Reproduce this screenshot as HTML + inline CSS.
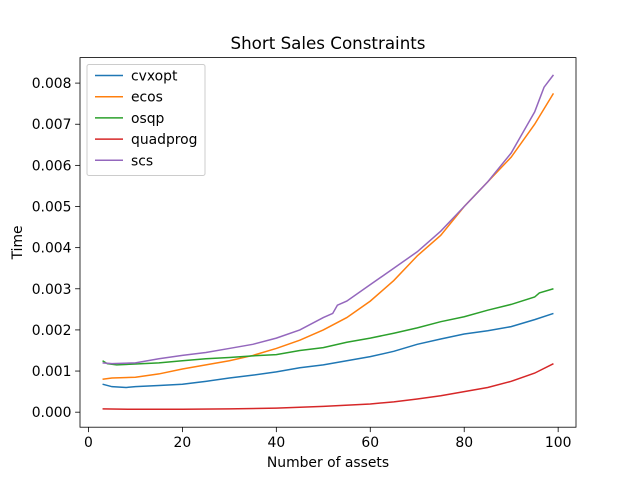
<!DOCTYPE html>
<html><head><meta charset="utf-8"><style>
body{margin:0;background:#fff}
svg{font-family:"DejaVu Sans","Liberation Sans",sans-serif}
</style></head><body>
<svg id="c" width="640" height="480" xmlns="http://www.w3.org/2000/svg"></svg>
<script>
const xTicks=[0,20,40,60,80,100];
const yTicks=[0,0.001,0.002,0.003,0.004,0.005,0.006,0.007,0.008];
const yTickLabels=["0.000","0.001","0.002","0.003","0.004","0.005","0.006","0.007","0.008"];
const seriesNames=["cvxopt","ecos","osqp","quadprog","scs"];
const seriesColors=["#1f77b4","#ff7f0e","#2ca02c","#d62728","#9467bd"];
const cvxoptX=[3,5,8,10,15,20,25,30,35,40,45,50,55,60,65,70,75,80,85,90,95,99];
const cvxoptY=[0.00068,0.00062,0.0006,0.00062,0.00065,0.00068,0.00075,0.00083,0.0009,0.00098,0.00108,0.00115,0.00125,0.00135,0.00148,0.00165,0.00178,0.0019,0.00198,0.00208,0.00225,0.0024];
const ecosX=[3,5,10,15,20,25,30,35,40,45,50,55,60,65,70,75,80,85,90,95,99];
const ecosY=[0.0008,0.00083,0.00085,0.00093,0.00105,0.00115,0.00125,0.00138,0.00155,0.00175,0.002,0.0023,0.0027,0.0032,0.0038,0.0043,0.005,0.0056,0.0062,0.007,0.00775];
const osqpX=[3,4,6,10,15,20,25,30,35,40,45,50,55,60,65,70,75,80,85,90,95,96,99];
const osqpY=[0.00125,0.00118,0.00115,0.00117,0.0012,0.00125,0.0013,0.00133,0.00137,0.0014,0.0015,0.00157,0.0017,0.0018,0.00192,0.00205,0.0022,0.00232,0.00248,0.00262,0.0028,0.0029,0.003];
const quadprogX=[3,10,20,30,40,50,60,65,70,75,80,85,90,95,99];
const quadprogY=[0.00008,0.00007,0.00007,0.00008,0.0001,0.00014,0.0002,0.00025,0.00032,0.0004,0.0005,0.0006,0.00075,0.00095,0.00118];
const scsX=[3,5,10,15,20,25,30,35,40,45,50,52,53,55,60,65,70,75,80,85,90,95,96,97,99];
const scsY=[0.0012,0.00118,0.0012,0.0013,0.00138,0.00145,0.00155,0.00165,0.0018,0.002,0.0023,0.0024,0.0026,0.0027,0.0031,0.0035,0.0039,0.0044,0.005,0.0056,0.0063,0.0073,0.0076,0.0079,0.0082];
const allX=[cvxoptX,ecosX,osqpX,quadprogX,scsX], allY=[cvxoptY,ecosY,osqpY,quadprogY,scsY];

const L=80,R=576,T=57.6,B=427.2;
const xMin=-1.8,xMax=103.8,yMin=-0.000365,yMax=0.00862;
const sx=v=>L+(v-xMin)/(xMax-xMin)*(R-L);
const sy=v=>B-(v-yMin)/(yMax-yMin)*(B-T);
const svg=document.getElementById('c');
const NS="http://www.w3.org/2000/svg";
function mk(tag,attrs,parent){const e=document.createElementNS(NS,tag);for(const k in attrs)e.setAttribute(k,attrs[k]);(parent||svg).appendChild(e);return e;}

for(let i=0;i<5;i++){
  const d=allX[i].map((x,j)=>(j?'L':'M')+sx(x).toFixed(2)+','+sy(allY[i][j]).toFixed(2)).join(' ');
  const p=mk('path',{d:d,fill:'none',stroke:seriesColors[i],'stroke-width':1.5});
  
  
}
const frame=mk('rect',{x:L,y:T,width:R-L,height:B-T,fill:'none',stroke:'#000','stroke-width':0.8});



xTicks.forEach(v=>{
  const x=sx(v);
  mk('line',{x1:x,x2:x,y1:B,y2:B+4.9,stroke:'#000','stroke-width':0.8});
  const t=mk('text',{x:x,y:B+20,'text-anchor':'middle','font-size':13.9,fill:'#000'});
  t.textContent=v;
  
  
});
yTicks.forEach((v,i)=>{
  const y=sy(v);
  mk('line',{x1:L-4.9,x2:L,y1:y,y2:y,stroke:'#000','stroke-width':0.8});
  const t=mk('text',{x:L-8.5,y:y+5,'text-anchor':'end','font-size':13.9,fill:'#000'});
  t.textContent=yTickLabels[i];
  
  
});
let t=mk('text',{x:(L+R)/2,y:49,'text-anchor':'middle','font-size':16.7,fill:'#000'});
t.textContent='Short Sales Constraints';


t=mk('text',{x:(L+R)/2,y:467,'text-anchor':'middle','font-size':13.9,fill:'#000'});
t.textContent='Number of assets';


t=mk('text',{x:22,y:(T+B)/2,'text-anchor':'middle','font-size':13.9,fill:'#000',transform:'rotate(-90 22 '+((T+B)/2)+')'});
t.textContent='Time';



const lg=mk('g',{});


mk('rect',{x:87,y:64.5,width:118,height:111,rx:2,fill:'#fff','fill-opacity':0.8,stroke:'#ccc','stroke-width':1},lg);
seriesNames.forEach((n,i)=>{
  const y=75.5+i*21.2;
  const g=mk('g',{},lg);
  
  
  mk('line',{x1:95,x2:123,y1:y,y2:y,stroke:seriesColors[i],'stroke-width':1.5},g);
  const tx=mk('text',{x:131,y:y+5,'font-size':13.9,fill:'#000'},g);
  tx.textContent=n;
});
</script>
</body></html>
